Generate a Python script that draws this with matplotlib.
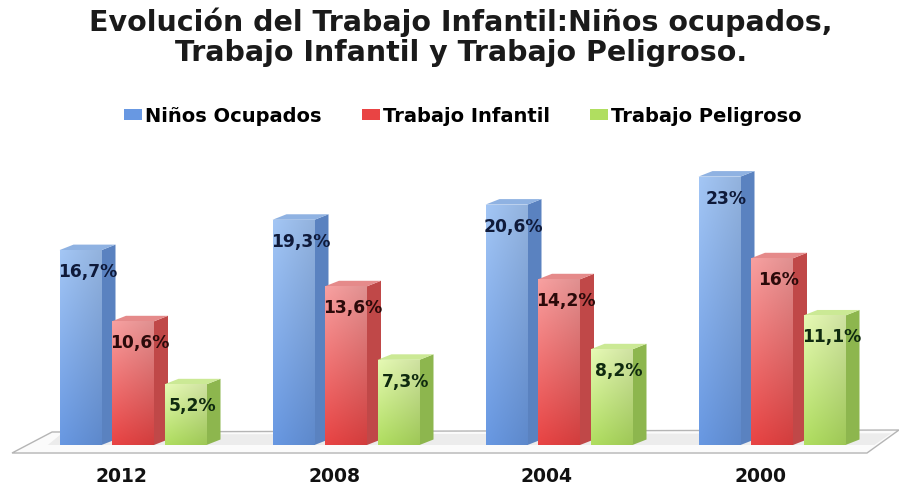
import numpy as np
import matplotlib
matplotlib.use("Agg")
import matplotlib.pyplot as plt
from matplotlib.patches import Polygon, Patch
from matplotlib.colors import to_rgb

plt.rcParams['font.family'] = ['DejaVu Sans']

# ---- data ----
categories = ["2012", "2008", "2004", "2000"]
series_names = ["Niños Ocupados", "Trabajo Infantil", "Trabajo Peligroso"]
ninos_ocupados = [16.7, 19.3, 20.6, 23.0]
trabajo_infantil = [10.6, 13.6, 14.2, 16.0]
trabajo_peligroso = [5.2, 7.3, 8.2, 11.1]
value_labels = [
    ["16,7%", "19,3%", "20,6%", "23%"],
    ["10,6%", "13,6%", "14,2%", "16%"],
    ["5,2%", "7,3%", "8,2%", "11,1%"],
]
title = "Evolución del Trabajo Infantil:Niños ocupados,\nTrabajo Infantil y Trabajo Peligroso."

series = [ninos_ocupados, trabajo_infantil, trabajo_peligroso]

# styles: (top-of-front, bottom-of-front, side, top face, label colour)
styles = [
    ("#a3c6f5", "#6898e2", "#5a82c0", "#8fb2e2", "#0f1a3a"),
    ("#f8a0a0", "#e94444", "#c04848", "#e58a8a", "#2b0a0a"),
    ("#e6fab4", "#b0de60", "#8db64e", "#cbe995", "#0f2a0f"),
]

fig = plt.figure(figsize=(8.99, 4.86), dpi=100)
ax = fig.add_axes([0, 0, 1, 1])
ax.axis('off')

px_per_cat = 213.0
px_per_unit = 11.67
w = 42 / px_per_cat          # bar width
step = 52.5 / px_per_cat     # offset between bars in a group
dx = 14 / px_per_cat         # depth horizontal
dy = 5.5 / px_per_unit       # depth vertical

n = len(categories)
xc = np.arange(n)

# floor
floor = Polygon([(-0.568, -0.686), (-0.380, 1.114), (n - 0.404, 1.285), (n - 0.554, -0.686)],
                closed=True, facecolor="#fbfbfb", edgecolor="#b5b5b5", lw=1.0, zorder=1)
ax.add_patch(floor)
# soft shadow band behind bars
shadow = Polygon([(-0.40, 0.0), (-0.34, 0.9), (n - 0.44, 1.0), (n - 0.52, 0.0)],
                 closed=True, facecolor="#ececec", edgecolor="none", zorder=1.5)
ax.add_patch(shadow)

for s, vals in enumerate(series):
    ctop, cbot, cside, ctopface, clab = styles[s]
    ct, cb = np.array(to_rgb(ctop)), np.array(to_rgb(cbot))
    bars = ax.bar(xc + (s - 1) * step, vals, width=w, color=cbot, zorder=2 + s, lw=0)
    for i, (b, v) in enumerate(zip(bars, vals)):
        x0 = b.get_x()
        z = 2 + s + 0.01 * i
        ty = np.linspace(0, 1, 64)[:, None, None]
        tx = np.linspace(0, 1, 32)[None, :, None]
        img = (ct * (1 - ty) + cb * ty) * (1 - 0.10 * tx)
        img = np.clip(img, 0, 1)
        im = ax.imshow(img, extent=[x0, x0 + w, 0, v], origin='upper', aspect='auto',
                       interpolation='bilinear', zorder=z + 0.001)
        im.set_clip_path(b)
        side = Polygon([(x0 + w, 0), (x0 + w + dx, dy), (x0 + w + dx, v + dy), (x0 + w, v)],
                       closed=True, facecolor=cside, edgecolor='none', zorder=z)
        top = Polygon([(x0, v), (x0 + dx, v + dy), (x0 + w + dx, v + dy), (x0 + w, v)],
                      closed=True, facecolor=ctopface, edgecolor='none', zorder=z)
        ax.add_patch(side)
        ax.add_patch(top)
        ax.text(x0 + (w + dx) / 2, v - 22 / px_per_unit, value_labels[s][i],
                ha='center', va='center', fontsize=12.3, fontweight='bold',
                color=clab, zorder=10)

# category labels
for i, c in enumerate(categories):
    ax.text(xc[i] - 12 / px_per_cat, -31 / px_per_unit, c, ha='center', va='center',
            fontsize=13.5, fontweight='bold', color='#111111')

ax.set_xlim(-133 / px_per_cat, (899 - 133) / px_per_cat)
ax.set_ylim(-41 / px_per_unit, 445 / px_per_unit)

fig.text(461 / 899, 1 - 37 / 486, title, ha='center', va='center', fontsize=20.5,
         fontweight='bold', color='#1a1a1a', linespacing=1.08)

handles = [Patch(facecolor=styles[k][1], edgecolor='none') for k in range(3)]
fig.legend(handles, series_names, loc='center', bbox_to_anchor=(463 / 899, 1 - 116 / 486),
           ncol=3, frameon=False, prop={'weight': 'bold', 'size': 14},
           handlelength=0.9, handleheight=0.55,
           handletextpad=0.15, columnspacing=2.1, borderpad=0.0)

fig.savefig("out.png", dpi=100)
